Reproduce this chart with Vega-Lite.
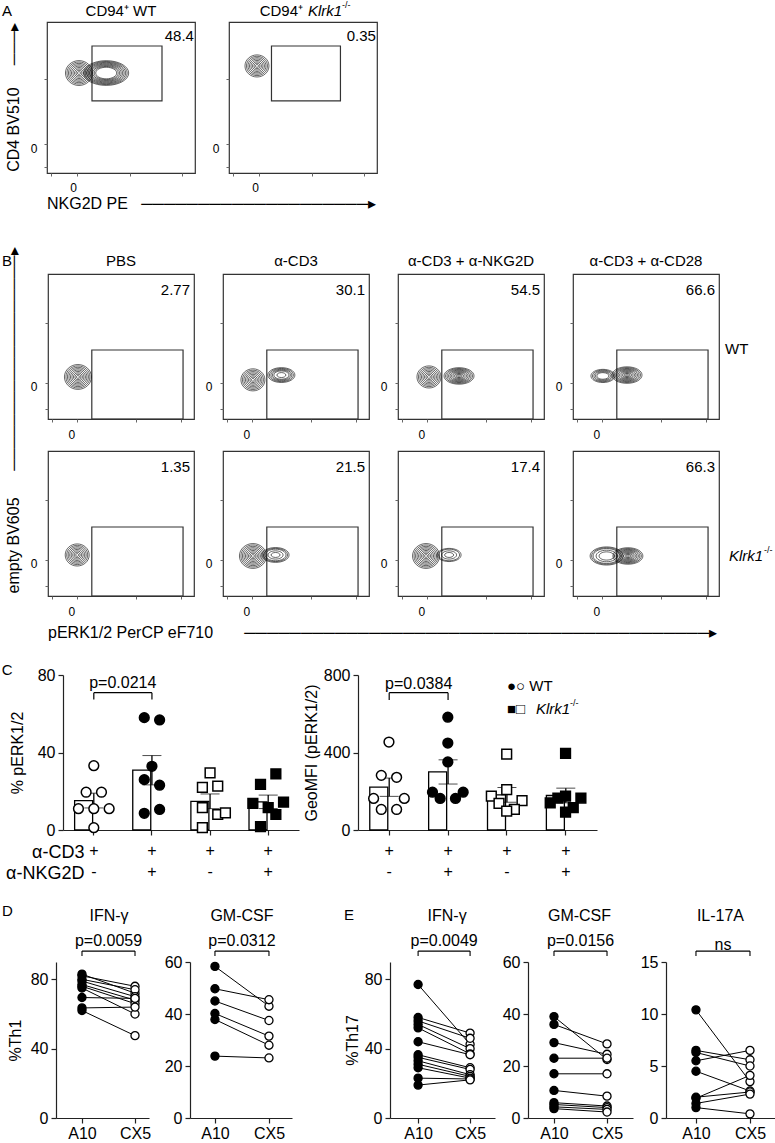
{
"$schema": "https://vega.github.io/schema/vega-lite/v6.json",
"padding": 0,
"background": "white",
"datasets": {
"flow": [
{"p":"A","gt":"WT","k":"gate","x":30.4,"x2":77.7,"y":47.7,"y2":84.1},
{"p":"A","gt":"KO","k":"gate","x":28.7,"x2":75.3,"y":47.7,"y2":84.1},
{"p":"A","gt":"WT","k":"num","lbl":"48.4"},
{"p":"A","gt":"KO","k":"num","lbl":"0.35"},
{"p":"A","gt":"WT","k":"tt"},
{"p":"A","gt":"KO","k":"tt"},
{"p":"A","gt":"WT","k":"blob","x":21.6,"y":66.2,"sh":"r","rings":[1,2,3,4,5,6,7,8,9]},
{"p":"A","gt":"WT","k":"blob","x":40,"y":66.2,"sh":"e","rings":[7,8,9,10,11,12,13,14,15]},
{"p":"A","gt":"KO","k":"blob","x":18.9,"y":70.9,"sh":"r","rings":[1,2,3,4,5,6,7,8]},
{"p":"B","gt":"WT","trt":"PBS","k":"gate","x":30,"x2":92.5,"y":0,"y2":47.6},
{"p":"B","gt":"WT","trt":"α-CD3","k":"gate","x":30,"x2":92.5,"y":0,"y2":47.6},
{"p":"B","gt":"WT","trt":"α-CD3 + α-NKG2D","k":"gate","x":30,"x2":92.5,"y":0,"y2":47.6},
{"p":"B","gt":"WT","trt":"α-CD3 + α-CD28","k":"gate","x":30,"x2":92.5,"y":0,"y2":47.6},
{"p":"B","gt":"KO","trt":"PBS","k":"gate","x":30,"x2":92.5,"y":0,"y2":47.6},
{"p":"B","gt":"KO","trt":"α-CD3","k":"gate","x":30,"x2":92.5,"y":0,"y2":47.6},
{"p":"B","gt":"KO","trt":"α-CD3 + α-NKG2D","k":"gate","x":30,"x2":92.5,"y":0,"y2":47.6},
{"p":"B","gt":"KO","trt":"α-CD3 + α-CD28","k":"gate","x":30,"x2":92.5,"y":0,"y2":47.6},
{"p":"B","gt":"WT","trt":"PBS","k":"num","lbl":"2.77"},
{"p":"B","gt":"WT","trt":"α-CD3","k":"num","lbl":"30.1"},
{"p":"B","gt":"WT","trt":"α-CD3 + α-NKG2D","k":"num","lbl":"54.5"},
{"p":"B","gt":"WT","trt":"α-CD3 + α-CD28","k":"num","lbl":"66.6"},
{"p":"B","gt":"KO","trt":"PBS","k":"num","lbl":"1.35"},
{"p":"B","gt":"KO","trt":"α-CD3","k":"num","lbl":"21.5"},
{"p":"B","gt":"KO","trt":"α-CD3 + α-NKG2D","k":"num","lbl":"17.4"},
{"p":"B","gt":"KO","trt":"α-CD3 + α-CD28","k":"num","lbl":"66.3"},
{"p":"B","gt":"WT","trt":"α-CD3 + α-CD28","k":"rl"},
{"p":"B","gt":"KO","trt":"α-CD3 + α-CD28","k":"rl"},
{"p":"B","gt":"WT","trt":"PBS","k":"blob","x":20.5,"y":29,"sh":"r","rings":[1,2,3,4,5,6,7,8,9]},
{"p":"B","gt":"WT","trt":"α-CD3","k":"blob","x":20.5,"y":27,"sh":"r","rings":[1,2,3,4,5,6,7,8]},
{"p":"B","gt":"WT","trt":"α-CD3","k":"blob","x":40,"y":30.3,"sh":"e","rings":[3,5,6,7,8,9]},
{"p":"B","gt":"WT","trt":"α-CD3 + α-NKG2D","k":"blob","x":21.2,"y":29,"sh":"r","rings":[1,2,3,4,5,6,7,8]},
{"p":"B","gt":"WT","trt":"α-CD3 + α-NKG2D","k":"blob","x":41.8,"y":29.7,"sh":"e","rings":[1,2,3,4,5,6,7,8,9,10]},
{"p":"B","gt":"WT","trt":"α-CD3 + α-CD28","k":"blob","x":20.5,"y":29.7,"sh":"e","rings":[4,5,6,7,8]},
{"p":"B","gt":"WT","trt":"α-CD3 + α-CD28","k":"blob","x":37,"y":30.3,"sh":"e","rings":[1,2,3,4,5,6,7,8,9,10]},
{"p":"B","gt":"KO","trt":"PBS","k":"blob","x":20,"y":28.3,"sh":"r","rings":[1,2,3,4,5,6,7,8]},
{"p":"B","gt":"KO","trt":"α-CD3","k":"blob","x":20.5,"y":27.6,"sh":"r","rings":[1,2,3,4,5,6,7,8,9]},
{"p":"B","gt":"KO","trt":"α-CD3","k":"blob","x":36,"y":28.3,"sh":"e","rings":[3,5,7,8,9]},
{"p":"B","gt":"KO","trt":"α-CD3 + α-NKG2D","k":"blob","x":19.2,"y":27.6,"sh":"r","rings":[1,2,3,4,5,6,7,8,9]},
{"p":"B","gt":"KO","trt":"α-CD3 + α-NKG2D","k":"blob","x":35,"y":28.3,"sh":"e","rings":[3,5,7,8]},
{"p":"B","gt":"KO","trt":"α-CD3 + α-CD28","k":"blob","x":23,"y":27.6,"sh":"e","rings":[5,7,9,10,11]},
{"p":"B","gt":"KO","trt":"α-CD3 + α-CD28","k":"blob","x":37.6,"y":27.6,"sh":"e","rings":[1,2,3,4,5,6,7,8,9,10]}
],
"pe": [
{"b":"c1","gt":"WT","ng":"-","s":0,"v":33.2},
{"b":"c1","gt":"WT","ng":"-","s":-1,"v":19.5},
{"b":"c1","gt":"WT","ng":"-","s":1,"v":19.5},
{"b":"c1","gt":"WT","ng":"-","s":-2,"v":11},
{"b":"c1","gt":"WT","ng":"-","s":0,"v":11},
{"b":"c1","gt":"WT","ng":"-","s":2,"v":11},
{"b":"c1","gt":"WT","ng":"-","s":0,"v":1.2},
{"b":"c2","gt":"WT","ng":"+","s":-1,"v":58},
{"b":"c2","gt":"WT","ng":"+","s":1,"v":56.8},
{"b":"c2","gt":"WT","ng":"+","s":0,"v":32.9},
{"b":"c2","gt":"WT","ng":"+","s":-1,"v":26},
{"b":"c2","gt":"WT","ng":"+","s":1,"v":23.1},
{"b":"c2","gt":"WT","ng":"+","s":-1,"v":8.6},
{"b":"c2","gt":"WT","ng":"+","s":1,"v":10.6},
{"b":"c3","gt":"KO","ng":"-","s":0,"v":29.5},
{"b":"c3","gt":"KO","ng":"-","s":-1,"v":22},
{"b":"c3","gt":"KO","ng":"-","s":1,"v":22.6},
{"b":"c3","gt":"KO","ng":"-","s":-1,"v":11.5},
{"b":"c3","gt":"KO","ng":"-","s":1,"v":8},
{"b":"c3","gt":"KO","ng":"-","s":2,"v":8.9},
{"b":"c3","gt":"KO","ng":"-","s":-1,"v":1.2},
{"b":"c4","gt":"KO","ng":"+","s":1,"v":29},
{"b":"c4","gt":"KO","ng":"+","s":-1,"v":23.5},
{"b":"c4","gt":"KO","ng":"+","s":-2,"v":13.7},
{"b":"c4","gt":"KO","ng":"+","s":2,"v":14.4},
{"b":"c4","gt":"KO","ng":"+","s":0,"v":11.5},
{"b":"c4","gt":"KO","ng":"+","s":1,"v":8},
{"b":"c4","gt":"KO","ng":"+","s":-1,"v":1.7}
],
"mfi": [
{"b":"c1","gt":"WT","ng":"-","s":0,"v":454},
{"b":"c1","gt":"WT","ng":"-","s":-1,"v":282},
{"b":"c1","gt":"WT","ng":"-","s":1,"v":272},
{"b":"c1","gt":"WT","ng":"-","s":-2,"v":163},
{"b":"c1","gt":"WT","ng":"-","s":2,"v":163},
{"b":"c1","gt":"WT","ng":"-","s":-1,"v":106},
{"b":"c1","gt":"WT","ng":"-","s":1,"v":106},
{"b":"c2","gt":"WT","ng":"+","s":0,"v":582},
{"b":"c2","gt":"WT","ng":"+","s":0,"v":449},
{"b":"c2","gt":"WT","ng":"+","s":0,"v":351},
{"b":"c2","gt":"WT","ng":"+","s":-2,"v":195},
{"b":"c2","gt":"WT","ng":"+","s":-1,"v":163},
{"b":"c2","gt":"WT","ng":"+","s":1,"v":163},
{"b":"c2","gt":"WT","ng":"+","s":2,"v":195},
{"b":"c3","gt":"KO","ng":"-","s":0,"v":392},
{"b":"c3","gt":"KO","ng":"-","s":0,"v":209},
{"b":"c3","gt":"KO","ng":"-","s":-2,"v":175},
{"b":"c3","gt":"KO","ng":"-","s":2,"v":152},
{"b":"c3","gt":"KO","ng":"-","s":-1,"v":137},
{"b":"c3","gt":"KO","ng":"-","s":1,"v":106},
{"b":"c3","gt":"KO","ng":"-","s":0,"v":98},
{"b":"c4","gt":"KO","ng":"+","s":0,"v":395},
{"b":"c4","gt":"KO","ng":"+","s":0,"v":175},
{"b":"c4","gt":"KO","ng":"+","s":-1,"v":165},
{"b":"c4","gt":"KO","ng":"+","s":2,"v":165},
{"b":"c4","gt":"KO","ng":"+","s":-2,"v":140},
{"b":"c4","gt":"KO","ng":"+","s":1,"v":115},
{"b":"c4","gt":"KO","ng":"+","s":0,"v":92}
],
"pairs": [
{"pl":"D1","id":1,"A10":83,"CX5":72},
{"pl":"D1","id":2,"A10":82,"CX5":76},
{"pl":"D1","id":3,"A10":80,"CX5":74},
{"pl":"D1","id":4,"A10":79,"CX5":70},
{"pl":"D1","id":5,"A10":77,"CX5":68},
{"pl":"D1","id":6,"A10":76,"CX5":66},
{"pl":"D1","id":7,"A10":75,"CX5":60},
{"pl":"D1","id":8,"A10":69.5,"CX5":69},
{"pl":"D1","id":9,"A10":63.5,"CX5":64},
{"pl":"D1","id":10,"A10":62,"CX5":47.5},
{"pl":"D2","id":1,"A10":58.3,"CX5":43},
{"pl":"D2","id":2,"A10":49.7,"CX5":45.5},
{"pl":"D2","id":3,"A10":45,"CX5":37.5},
{"pl":"D2","id":4,"A10":40.2,"CX5":31.5},
{"pl":"D2","id":5,"A10":37.9,"CX5":28},
{"pl":"D2","id":6,"A10":23.8,"CX5":23.1},
{"pl":"E1","id":1,"A10":77,"CX5":42.5},
{"pl":"E1","id":2,"A10":58,"CX5":49},
{"pl":"E1","id":3,"A10":56,"CX5":46},
{"pl":"E1","id":4,"A10":54,"CX5":40},
{"pl":"E1","id":5,"A10":52,"CX5":37},
{"pl":"E1","id":6,"A10":44,"CX5":36.5},
{"pl":"E1","id":7,"A10":36.5,"CX5":29},
{"pl":"E1","id":8,"A10":35,"CX5":28},
{"pl":"E1","id":9,"A10":33,"CX5":25},
{"pl":"E1","id":10,"A10":31,"CX5":24},
{"pl":"E1","id":11,"A10":29,"CX5":23},
{"pl":"E1","id":12,"A10":23,"CX5":22.5},
{"pl":"E1","id":13,"A10":19,"CX5":22},
{"pl":"E2","id":1,"A10":39,"CX5":22.5},
{"pl":"E2","id":2,"A10":36,"CX5":28.5},
{"pl":"E2","id":3,"A10":29,"CX5":24.5},
{"pl":"E2","id":4,"A10":23,"CX5":23},
{"pl":"E2","id":5,"A10":17,"CX5":17},
{"pl":"E2","id":6,"A10":10.6,"CX5":8.4},
{"pl":"E2","id":7,"A10":5.9,"CX5":4.6},
{"pl":"E2","id":8,"A10":5.2,"CX5":4},
{"pl":"E2","id":9,"A10":4.3,"CX5":3.3},
{"pl":"E2","id":10,"A10":3.6,"CX5":2.3},
{"pl":"E3","id":1,"A10":10.4,"CX5":3.5},
{"pl":"E3","id":2,"A10":6.5,"CX5":5.6},
{"pl":"E3","id":3,"A10":6.3,"CX5":5.0},
{"pl":"E3","id":4,"A10":5.5,"CX5":6.5},
{"pl":"E3","id":5,"A10":4.5,"CX5":2.6},
{"pl":"E3","id":6,"A10":2.0,"CX5":2.5},
{"pl":"E3","id":7,"A10":1.9,"CX5":4.1},
{"pl":"E3","id":8,"A10":1.4,"CX5":2.3},
{"pl":"E3","id":9,"A10":1.0,"CX5":0.4}
]
},
"resolve": {"scale": {"shape": "independent", "fill": "independent", "size": "independent"}},
"spacing": 20,
"vconcat": [
{
"resolve": {"scale": {"shape": "independent", "fill": "independent", "size": "independent"}},
"spacing": 33,
"vconcat": [
{
"spacing": 0,
"hconcat": [
{"width": 1, "height": 1, "data": {"values": []}, "mark": {"type": "point", "opacity": 0}},
{
"data": {"name": "flow"},
"transform": [{"filter": "datum.p == 'A'"}],
"facet": {
"column": {"field": "gt", "type": "nominal", "sort": ["WT", "KO"], "header": {"labels": false, "title": null}}
},
"spacing": {"column": 34},
"bounds": "flush",
"resolve": {"axis": {"x": "independent", "y": "independent"}},
"spec": {
"width": 148, "height": 151,
"view": {"stroke": "#333", "strokeWidth": 1.2},
"layer": [
{"transform": [{"filter": "datum.k == 'gate'"}],
"mark": {"type": "rect", "filled": false, "color": "#333", "strokeWidth": 1.2},
"encoding": {
"x": {"field": "x", "type": "quantitative", "scale": {"domain": [0, 100], "nice": false, "zero": false}, "axis": {"title": null, "domain": false, "labels": false, "tickSize": 3, "tickColor": "#666", "tickWidth": 1, "values": [3, 8, 12, 14, 16, 17, 18, 19, 20, 22, 24, 28, 36, 41, 45, 51, 56, 60, 64, 67, 75, 80, 85, 88, 91]}},
"x2": {"field": "x2"},
"y": {"field": "y", "type": "quantitative", "scale": {"domain": [0, 100], "nice": false, "zero": false}, "axis": {"title": null, "domain": false, "labels": false, "tickSize": 3, "tickColor": "#666", "tickWidth": 1, "values": [4, 10, 13, 14.5, 15.5, 16, 16.5, 17.5, 19, 22, 30, 36, 40, 43.7, 52, 58, 62, 65, 67.5, 75, 82, 86, 89, 91]}},
"y2": {"field": "y2"}}},
{"transform": [{"filter": "datum.k == 'blob'"}, {"flatten": ["rings"], "as": ["ring"]}],
"mark": {"type": "point", "filled": false, "color": "#000", "strokeWidth": 0.6, "opacity": 1},
"encoding": {
"x": {"field": "x", "type": "quantitative"},
"y": {"field": "y", "type": "quantitative"},
"size": {"field": "ring", "type": "quantitative", "scale": {"type": "pow", "exponent": 2, "domain": [0, 15], "range": [0, 2025]}, "legend": null},
"shape": {"field": "sh", "type": "nominal", "scale": {"domain": ["r", "e"], "range": ["M-1,0A1,0.92,0,1,0,1,0A1,0.92,0,1,0,-1,0Z", "M-1,0A1,0.55,0,1,0,1,0A1,0.55,0,1,0,-1,0Z"]}, "legend": null}}},
{"transform": [{"filter": "datum.k == 'num'"}],
"mark": {"type": "text", "align": "right", "baseline": "middle", "fontSize": 15},
"encoding": {"x": {"datum": 99.3}, "y": {"datum": 90.7}, "text": {"field": "lbl"}}},
{"transform": [{"filter": "datum.k == 'gate'"}],
"mark": {"type": "text", "align": "right", "baseline": "middle", "fontSize": 12},
"encoding": {"x": {"datum": -6.4}, "y": {"datum": 16}, "text": {"value": "0"}}},
{"transform": [{"filter": "datum.k == 'gate'"}],
"mark": {"type": "text", "align": "center", "baseline": "middle", "fontSize": 12},
"encoding": {"x": {"datum": 18}, "y": {"datum": -10}, "text": {"value": "0"}}},
{"transform": [{"filter": "datum.k == 'tt' && datum.gt == 'WT'"}],
"mark": {"type": "text", "align": "center", "baseline": "middle", "fontSize": 15},
"encoding": {"x": {"datum": 50}, "y": {"datum": 107.3}, "text": {"value": "CD94⁺ WT"}}},
{"transform": [{"filter": "datum.k == 'tt' && datum.gt == 'WT'"}],
"mark": {"type": "text", "align": "left", "baseline": "middle", "fontSize": 15},
"encoding": {"x": {"datum": -30.4}, "y": {"datum": 107.3}, "text": {"value": "A"}}},
{"transform": [{"filter": "datum.k == 'tt' && datum.gt == 'WT'"}],
"mark": {"type": "text", "align": "center", "baseline": "middle", "fontSize": 16, "angle": 270},
"encoding": {"x": {"datum": -22.3}, "y": {"datum": 50}, "text": {"value": "CD4 BV510\u00a0\u00a0\u00a0\u00a0\u00a0───▸"}}},
{"transform": [{"filter": "datum.k == 'tt' && datum.gt == 'WT'"}],
"mark": {"type": "text", "align": "left", "baseline": "middle", "fontSize": 16},
"encoding": {"x": {"datum": 0}, "y": {"datum": -20.5}, "text": {"value": "NKG2D PE\u00a0\u00a0\u00a0────────────────────▸"}}},
{"transform": [{"filter": "datum.k == 'tt' && datum.gt == 'KO'"}],
"mark": {"type": "text", "align": "right", "baseline": "middle", "fontSize": 15},
"encoding": {"x": {"datum": 50}, "y": {"datum": 107.3}, "text": {"value": "CD94⁺"}}},
{"transform": [{"filter": "datum.k == 'tt' && datum.gt == 'KO'"}],
"mark": {"type": "text", "align": "left", "baseline": "middle", "fontSize": 15, "fontStyle": "italic", "dx": 5},
"encoding": {"x": {"datum": 50}, "y": {"datum": 107.3}, "text": {"value": "Klrk1"}}},
{"transform": [{"filter": "datum.k == 'tt' && datum.gt == 'KO'"}],
"mark": {"type": "text", "align": "left", "baseline": "middle", "fontSize": 9, "dx": 39, "dy": -6},
"encoding": {"x": {"datum": 50}, "y": {"datum": 107.3}, "text": {"value": "-/-"}}}
]
}
}
]
},
{
"spacing": 0,
"hconcat": [
{"width": 1, "height": 1, "data": {"values": []}, "mark": {"type": "point", "opacity": 0}},
{
"data": {"name": "flow"},
"transform": [{"filter": "datum.p == 'B'"}],
"facet": {
"column": {"field": "trt", "type": "nominal", "sort": ["PBS", "α-CD3", "α-CD3 + α-NKG2D", "α-CD3 + α-CD28"], "header": {"labelFontSize": 15, "labelPadding": 5, "title": null}},
"row": {"field": "gt", "type": "nominal", "sort": ["WT", "KO"], "header": {"labels": false, "title": null}}
},
"spacing": {"row": 32, "column": 29},
"bounds": "flush",
"resolve": {"axis": {"x": "independent", "y": "independent"}},
"spec": {
"width": 146, "height": 145,
"view": {"stroke": "#333", "strokeWidth": 1.2},
"layer": [
{"transform": [{"filter": "datum.k == 'gate'"}],
"mark": {"type": "rect", "filled": false, "color": "#333", "strokeWidth": 1.2},
"encoding": {
"x": {"field": "x", "type": "quantitative", "scale": {"domain": [0, 100], "nice": false, "zero": false}, "axis": {"title": null, "domain": false, "labels": false, "tickSize": 3, "tickColor": "#666", "tickWidth": 1, "values": [3, 9, 12, 14.5, 15.5, 16.4, 17.3, 18.3, 20, 24, 28, 35, 40, 45.5, 51, 56, 60, 63, 66, 68, 75, 80, 85, 88, 91]}},
"x2": {"field": "x2"},
"y": {"field": "y", "type": "quantitative", "scale": {"domain": [0, 100], "nice": false, "zero": false}, "axis": {"title": null, "domain": false, "labels": false, "tickSize": 3, "tickColor": "#666", "tickWidth": 1, "values": [6.9, 14, 18, 20.7, 21.4, 22, 22.6, 23.3, 24.8, 28, 38.6, 46, 52, 57, 61, 64, 66.2, 74, 80, 84, 88, 90.3]}},
"y2": {"field": "y2"}}},
{"transform": [{"filter": "datum.k == 'blob'"}, {"flatten": ["rings"], "as": ["ring"]}],
"mark": {"type": "point", "filled": false, "color": "#000", "strokeWidth": 0.6, "opacity": 1},
"encoding": {
"x": {"field": "x", "type": "quantitative"},
"y": {"field": "y", "type": "quantitative"},
"size": {"field": "ring", "type": "quantitative", "scale": {"type": "pow", "exponent": 2, "domain": [0, 15], "range": [0, 2025]}, "legend": null},
"shape": {"field": "sh", "type": "nominal", "scale": {"domain": ["r", "e"], "range": ["M-1,0A1,0.92,0,1,0,1,0A1,0.92,0,1,0,-1,0Z", "M-1,0A1,0.55,0,1,0,1,0A1,0.55,0,1,0,-1,0Z"]}, "legend": null}}},
{"transform": [{"filter": "datum.k == 'num'"}],
"mark": {"type": "text", "align": "right", "baseline": "middle", "fontSize": 15},
"encoding": {"x": {"datum": 97.3}, "y": {"datum": 89}, "text": {"field": "lbl"}}},
{"transform": [{"filter": "datum.k == 'gate'"}],
"mark": {"type": "text", "align": "right", "baseline": "middle", "fontSize": 12},
"encoding": {"x": {"datum": -7.2}, "y": {"datum": 22}, "text": {"value": "0"}}},
{"transform": [{"filter": "datum.k == 'gate'"}],
"mark": {"type": "text", "align": "center", "baseline": "middle", "fontSize": 12},
"encoding": {"x": {"datum": 16.4}, "y": {"datum": -11}, "text": {"value": "0"}}},
{"transform": [{"filter": "datum.k == 'num' && datum.gt == 'WT' && datum.trt == 'PBS'"}],
"mark": {"type": "text", "align": "left", "baseline": "middle", "fontSize": 15},
"encoding": {"x": {"datum": -31.5}, "y": {"datum": 109}, "text": {"value": "B"}}},
{"transform": [{"filter": "datum.k == 'num' && datum.gt == 'WT' && datum.trt == 'PBS'"}],
"mark": {"type": "text", "align": "center", "baseline": "middle", "fontSize": 16, "angle": 270},
"encoding": {"x": {"datum": -23.3}, "y": {"datum": -1}, "text": {"value": "empty BV605\u00a0\u00a0\u00a0\u00a0\u00a0\u00a0───────────────────▸"}}},
{"transform": [{"filter": "datum.k == 'num' && datum.gt == 'KO' && datum.trt == 'PBS'"}],
"mark": {"type": "text", "align": "left", "baseline": "middle", "fontSize": 16},
"encoding": {"x": {"datum": 0}, "y": {"datum": -25.5}, "text": {"value": "pERK1/2 PerCP eF710\u00a0\u00a0\u00a0\u00a0\u00a0\u00a0\u00a0─────────────────────────────────────────▸"}}},
{"transform": [{"filter": "datum.k == 'rl' && datum.gt == 'WT'"}],
"mark": {"type": "text", "align": "left", "baseline": "middle", "fontSize": 15},
"encoding": {"x": {"datum": 104.1}, "y": {"datum": 48.3}, "text": {"value": "WT"}}},
{"transform": [{"filter": "datum.k == 'rl' && datum.gt == 'KO'"}],
"mark": {"type": "text", "align": "left", "baseline": "middle", "fontSize": 15, "fontStyle": "italic"},
"encoding": {"x": {"datum": 106.8}, "y": {"datum": 27.6}, "text": {"value": "Klrk1"}}},
{"transform": [{"filter": "datum.k == 'rl' && datum.gt == 'KO'"}],
"mark": {"type": "text", "align": "left", "baseline": "middle", "fontSize": 9, "dx": 35, "dy": -6},
"encoding": {"x": {"datum": 106.8}, "y": {"datum": 27.6}, "text": {"value": "-/-"}}}
]
}
}
]
}
]
},
{
"resolve": {"scale": {"shape": "independent", "fill": "independent", "size": "independent"}},
"spacing": 22,
"vconcat": [
{
"spacing": 0,
"hconcat": [
{"width": 1, "height": 1, "data": {"values": []}, "mark": {"type": "point", "opacity": 0}},
{
"spacing": 4,
"hconcat": [
{
"width": 236, "height": 155,
"data": {"name": "pe"},
"layer": [
{"mark": {"type": "bar", "fill": "#fff", "stroke": "#000", "strokeWidth": 1.3},
"encoding": {
"x": {"field": "b", "type": "nominal", "scale": {"paddingInner": 0.34, "paddingOuter": 0.2}, "axis": {"title": ["α-CD3", "α-NKG2D"], "titleFontSize": 18, "titleLineHeight": 21, "titleAlign": "right", "titleBaseline": "alphabetic", "titleAngle": 0, "titleX": 21, "titleY": 27, "labelExpr": "datum.value == 'c1' || datum.value == 'c3' ? ['+', '-'] : ['+', '+']", "labelLineHeight": 21, "labelPadding": 7, "labelAngle": 0}},
"y": {"aggregate": "mean", "field": "v", "type": "quantitative", "scale": {"domain": [0, 80], "nice": false}, "axis": {"title": "% pERK1/2", "values": [0, 20, 40, 60, 80], "titlePadding": 12, "labelPadding": 3}}}},
{"mark": {"type": "errorbar", "extent": "stderr", "color": "#000", "ticks": {"size": 19}, "rule": {"strokeWidth": 1.3}},
"encoding": {"x": {"field": "b", "type": "nominal"}, "y": {"field": "v", "type": "quantitative", "title": "% pERK1/2"}}},
{"mark": {"type": "point", "filled": true, "size": 95, "stroke": "#000", "strokeWidth": 1.5, "opacity": 1},
"encoding": {
"x": {"field": "b", "type": "nominal"},
"xOffset": {"field": "s", "type": "ordinal", "scale": {"domain": [-2, -1, 0, 1, 2]}},
"y": {"field": "v", "type": "quantitative", "title": "% pERK1/2"},
"shape": {"field": "gt", "type": "nominal", "scale": {"domain": ["WT", "KO"], "range": ["circle", "square"]}, "legend": null},
"fill": {"field": "ng", "type": "nominal", "scale": {"domain": ["-", "+"], "range": ["#ffffff", "#000000"]}, "legend": null}}},
{"data": {"values": [{}]}, "mark": {"type": "rule", "color": "#000", "strokeWidth": 1.2},
"encoding": {"x": {"datum": "c1"}, "x2": {"datum": "c2"}, "y": {"datum": 70.9}}},
{"data": {"values": [{}]}, "mark": {"type": "rule", "color": "#000", "strokeWidth": 1.2},
"encoding": {"x": {"datum": "c1"}, "y": {"datum": 70.9}, "y2": {"datum": 67.3}}},
{"data": {"values": [{}]}, "mark": {"type": "rule", "color": "#000", "strokeWidth": 1.2},
"encoding": {"x": {"datum": "c2"}, "y": {"datum": 70.9}, "y2": {"datum": 67.3}}},
{"data": {"values": [{}]}, "mark": {"type": "text", "fontSize": 16, "dx": 29, "baseline": "middle", "align": "center"},
"encoding": {"x": {"datum": "c1"}, "y": {"datum": 75.7}, "text": {"value": "p=0.0214"}}},
{"data": {"values": [{}]}, "mark": {"type": "text", "fontSize": 15, "dx": -92, "baseline": "middle", "align": "left"},
"encoding": {"x": {"datum": "c1"}, "y": {"datum": 82.6}, "text": {"value": "C"}}}
]
},
{
"width": 239, "height": 155,
"data": {"name": "mfi"},
"layer": [
{"mark": {"type": "bar", "fill": "#fff", "stroke": "#000", "strokeWidth": 1.3},
"encoding": {
"x": {"field": "b", "type": "nominal", "scale": {"paddingInner": 0.34, "paddingOuter": 0.2}, "axis": {"title": null, "labelExpr": "datum.value == 'c1' || datum.value == 'c3' ? ['+', '-'] : ['+', '+']", "labelLineHeight": 21, "labelPadding": 7, "labelAngle": 0}},
"y": {"aggregate": "mean", "field": "v", "type": "quantitative", "scale": {"domain": [0, 800], "nice": false}, "axis": {"title": "GeoMFI (pERK1/2)", "values": [0, 200, 400, 600, 800], "titlePadding": 4, "labelPadding": 3}}}},
{"mark": {"type": "errorbar", "extent": "stderr", "color": "#000", "ticks": {"size": 19}, "rule": {"strokeWidth": 1.3}},
"encoding": {"x": {"field": "b", "type": "nominal"}, "y": {"field": "v", "type": "quantitative", "title": "GeoMFI (pERK1/2)"}}},
{"mark": {"type": "point", "filled": true, "size": 95, "stroke": "#000", "strokeWidth": 1.5, "opacity": 1},
"encoding": {
"x": {"field": "b", "type": "nominal"},
"xOffset": {"field": "s", "type": "ordinal", "scale": {"domain": [-2, -1, 0, 1, 2]}},
"y": {"field": "v", "type": "quantitative", "title": "GeoMFI (pERK1/2)"},
"shape": {"field": "gt", "type": "nominal", "scale": {"domain": ["WT", "KO"], "range": ["circle", "square"]}, "legend": null},
"fill": {"field": "ng", "type": "nominal", "scale": {"domain": ["-", "+"], "range": ["#ffffff", "#000000"]}, "legend": null}}},
{"data": {"values": [{}]}, "mark": {"type": "rule", "color": "#000", "strokeWidth": 1.2},
"encoding": {"x": {"datum": "c1"}, "x2": {"datum": "c2"}, "y": {"datum": 709}}},
{"data": {"values": [{}]}, "mark": {"type": "rule", "color": "#000", "strokeWidth": 1.2},
"encoding": {"x": {"datum": "c1"}, "y": {"datum": 709}, "y2": {"datum": 671}}},
{"data": {"values": [{}]}, "mark": {"type": "rule", "color": "#000", "strokeWidth": 1.2},
"encoding": {"x": {"datum": "c2"}, "y": {"datum": 709}, "y2": {"datum": 671}}},
{"data": {"values": [{}]}, "mark": {"type": "text", "fontSize": 16, "dx": 29.5, "baseline": "middle", "align": "center"},
"encoding": {"x": {"datum": "c1"}, "y": {"datum": 752}, "text": {"value": "p=0.0384"}}},
{"data": {"values": [{}]}, "mark": {"type": "text", "fontSize": 15, "baseline": "middle", "align": "left"},
"encoding": {"x": {"datum": "c3"}, "y": {"datum": 742}, "text": {"value": "●○ WT"}}},
{"data": {"values": [{}]}, "mark": {"type": "text", "fontSize": 15, "baseline": "middle", "align": "left"},
"encoding": {"x": {"datum": "c3"}, "y": {"datum": 624}, "text": {"value": "■□"}}},
{"data": {"values": [{}]}, "mark": {"type": "text", "fontSize": 15, "baseline": "middle", "align": "left", "fontStyle": "italic", "dx": 29},
"encoding": {"x": {"datum": "c3"}, "y": {"datum": 624}, "text": {"value": "Klrk1"}}},
{"data": {"values": [{}]}, "mark": {"type": "text", "fontSize": 9, "baseline": "middle", "align": "left", "dx": 63, "dy": -6},
"encoding": {"x": {"datum": "c3"}, "y": {"datum": 624}, "text": {"value": "-/-"}}}
]
}
]
}
]
},
{
"spacing": 0,
"hconcat": [
{"width": 1, "height": 1, "data": {"values": []}, "mark": {"type": "point", "opacity": 0}},
{
"spacing": 52,
"hconcat": [
{
"spacing": 13,
"hconcat": [
{
"width": 93, "height": 156,
"layer": [
{"data": {"name": "pairs"}, "transform": [{"filter": "datum.pl == 'D1'"}, {"fold": ["A10", "CX5"], "as": ["grp", "v"]}],
"mark": {"type": "line", "color": "#000", "strokeWidth": 1},
"encoding": {
"x": {"field": "grp", "type": "nominal", "scale": {"type": "point", "padding": 0.377, "align": 0.65}, "axis": {"title": null, "labelAngle": 0, "labelPadding": 2}},
"y": {"field": "v", "type": "quantitative", "scale": {"domain": [0, 90], "nice": false}, "axis": {"title": "%Th1", "values": [0, 10, 20, 30, 40, 50, 60, 70, 80, 90], "titlePadding": 7, "labelPadding": 3}},
"detail": {"field": "id", "type": "nominal"}}},
{"data": {"name": "pairs"}, "transform": [{"filter": "datum.pl == 'D1'"}, {"fold": ["A10", "CX5"], "as": ["grp", "v"]}],
"mark": {"type": "point", "filled": true, "size": 65, "stroke": "#000", "strokeWidth": 1.3, "opacity": 1},
"encoding": {
"x": {"field": "grp", "type": "nominal", "title": null},
"y": {"field": "v", "type": "quantitative", "title": "%Th1"},
"fill": {"field": "grp", "type": "nominal", "scale": {"domain": ["A10", "CX5"], "range": ["#000000", "#ffffff"]}, "legend": null}}},
{"data": {"values": [{}]}, "mark": {"type": "rule", "color": "#000", "strokeWidth": 1.1},
"encoding": {"x": {"datum": "A10"}, "x2": {"datum": "CX5"}, "y": {"datum": 96.3}}},
{"data": {"values": [{}]}, "mark": {"type": "rule", "color": "#000", "strokeWidth": 1.1},
"encoding": {"x": {"datum": "A10"}, "y": {"datum": 96.3}, "y2": {"datum": 93.5}}},
{"data": {"values": [{}]}, "mark": {"type": "rule", "color": "#000", "strokeWidth": 1.1},
"encoding": {"x": {"datum": "CX5"}, "y": {"datum": 96.3}, "y2": {"datum": 93.5}}},
{"data": {"values": [{}]}, "mark": {"type": "text", "fontSize": 16, "dx": 26.5, "baseline": "middle", "align": "center"},
"encoding": {"x": {"datum": "A10"}, "y": {"datum": 102}, "text": {"value": "p=0.0059"}}},
{"data": {"values": [{}]}, "mark": {"type": "text", "fontSize": 16, "dx": 27, "baseline": "middle", "align": "center"},
"encoding": {"x": {"datum": "A10"}, "y": {"datum": 116.6}, "text": {"value": "IFN-γ"}}},
{"data": {"values": [{}]}, "mark": {"type": "text", "fontSize": 15, "dx": -80, "baseline": "middle", "align": "left"},
"encoding": {"x": {"datum": "A10"}, "y": {"datum": 119.4}, "text": {"value": "D"}}}
]
},
{
"width": 102, "height": 156,
"layer": [
{"data": {"name": "pairs"}, "transform": [{"filter": "datum.pl == 'D2'"}, {"fold": ["A10", "CX5"], "as": ["grp", "v"]}],
"mark": {"type": "line", "color": "#000", "strokeWidth": 1},
"encoding": {
"x": {"field": "grp", "type": "nominal", "scale": {"type": "point", "padding": 0.444, "align": 0.52}, "axis": {"title": null, "labelAngle": 0, "labelPadding": 2}},
"y": {"field": "v", "type": "quantitative", "scale": {"domain": [0, 60], "nice": false}, "axis": {"title": null, "values": [0, 20, 40, 60], "labelPadding": 3}},
"detail": {"field": "id", "type": "nominal"}}},
{"data": {"name": "pairs"}, "transform": [{"filter": "datum.pl == 'D2'"}, {"fold": ["A10", "CX5"], "as": ["grp", "v"]}],
"mark": {"type": "point", "filled": true, "size": 65, "stroke": "#000", "strokeWidth": 1.3, "opacity": 1},
"encoding": {
"x": {"field": "grp", "type": "nominal", "title": null},
"y": {"field": "v", "type": "quantitative", "title": null},
"fill": {"field": "grp", "type": "nominal", "scale": {"domain": ["A10", "CX5"], "range": ["#000000", "#ffffff"]}, "legend": null}}},
{"data": {"values": [{}]}, "mark": {"type": "rule", "color": "#000", "strokeWidth": 1.1},
"encoding": {"x": {"datum": "A10"}, "x2": {"datum": "CX5"}, "y": {"datum": 64.2}}},
{"data": {"values": [{}]}, "mark": {"type": "rule", "color": "#000", "strokeWidth": 1.1},
"encoding": {"x": {"datum": "A10"}, "y": {"datum": 64.2}, "y2": {"datum": 62.3}}},
{"data": {"values": [{}]}, "mark": {"type": "rule", "color": "#000", "strokeWidth": 1.1},
"encoding": {"x": {"datum": "CX5"}, "y": {"datum": 64.2}, "y2": {"datum": 62.3}}},
{"data": {"values": [{}]}, "mark": {"type": "text", "fontSize": 16, "dx": 27, "baseline": "middle", "align": "center"},
"encoding": {"x": {"datum": "A10"}, "y": {"datum": 68}, "text": {"value": "p=0.0312"}}},
{"data": {"values": [{}]}, "mark": {"type": "text", "fontSize": 16, "dx": 27, "baseline": "middle", "align": "center"},
"encoding": {"x": {"datum": "A10"}, "y": {"datum": 77.7}, "text": {"value": "GM-CSF"}}}
]
}
]
},
{
"spacing": 7,
"hconcat": [
{
"width": 105, "height": 156,
"layer": [
{"data": {"name": "pairs"}, "transform": [{"filter": "datum.pl == 'E1'"}, {"fold": ["A10", "CX5"], "as": ["grp", "v"]}],
"mark": {"type": "line", "color": "#000", "strokeWidth": 1},
"encoding": {
"x": {"field": "grp", "type": "nominal", "scale": {"type": "point", "padding": 0.51, "align": 0.53}, "axis": {"title": null, "labelAngle": 0, "labelPadding": 2}},
"y": {"field": "v", "type": "quantitative", "scale": {"domain": [0, 90], "nice": false}, "axis": {"title": "%Th17", "values": [0, 10, 20, 30, 40, 50, 60, 70, 80, 90], "titlePadding": 4, "labelPadding": 3}},
"detail": {"field": "id", "type": "nominal"}}},
{"data": {"name": "pairs"}, "transform": [{"filter": "datum.pl == 'E1'"}, {"fold": ["A10", "CX5"], "as": ["grp", "v"]}],
"mark": {"type": "point", "filled": true, "size": 65, "stroke": "#000", "strokeWidth": 1.3, "opacity": 1},
"encoding": {
"x": {"field": "grp", "type": "nominal", "title": null},
"y": {"field": "v", "type": "quantitative", "title": "%Th17"},
"fill": {"field": "grp", "type": "nominal", "scale": {"domain": ["A10", "CX5"], "range": ["#000000", "#ffffff"]}, "legend": null}}},
{"data": {"values": [{}]}, "mark": {"type": "rule", "color": "#000", "strokeWidth": 1.1},
"encoding": {"x": {"datum": "A10"}, "x2": {"datum": "CX5"}, "y": {"datum": 96.3}}},
{"data": {"values": [{}]}, "mark": {"type": "rule", "color": "#000", "strokeWidth": 1.1},
"encoding": {"x": {"datum": "A10"}, "y": {"datum": 96.3}, "y2": {"datum": 93.5}}},
{"data": {"values": [{}]}, "mark": {"type": "rule", "color": "#000", "strokeWidth": 1.1},
"encoding": {"x": {"datum": "CX5"}, "y": {"datum": 96.3}, "y2": {"datum": 93.5}}},
{"data": {"values": [{}]}, "mark": {"type": "text", "fontSize": 16, "dx": 26, "baseline": "middle", "align": "center"},
"encoding": {"x": {"datum": "A10"}, "y": {"datum": 102}, "text": {"value": "p=0.0049"}}},
{"data": {"values": [{}]}, "mark": {"type": "text", "fontSize": 16, "dx": 29, "baseline": "middle", "align": "center"},
"encoding": {"x": {"datum": "A10"}, "y": {"datum": 116.6}, "text": {"value": "IFN-γ"}}},
{"data": {"values": [{}]}, "mark": {"type": "text", "fontSize": 15, "dx": -74, "baseline": "middle", "align": "left"},
"encoding": {"x": {"datum": "A10"}, "y": {"datum": 117.1}, "text": {"value": "E"}}}
]
},
{
"width": 105, "height": 156,
"layer": [
{"data": {"name": "pairs"}, "transform": [{"filter": "datum.pl == 'E2'"}, {"fold": ["A10", "CX5"], "as": ["grp", "v"]}],
"mark": {"type": "line", "color": "#000", "strokeWidth": 1},
"encoding": {
"x": {"field": "grp", "type": "nominal", "scale": {"type": "point", "padding": 0.49, "align": 0.5}, "axis": {"title": null, "labelAngle": 0, "labelPadding": 2}},
"y": {"field": "v", "type": "quantitative", "scale": {"domain": [0, 60], "nice": false}, "axis": {"title": null, "values": [0, 20, 40, 60], "labelPadding": 3}},
"detail": {"field": "id", "type": "nominal"}}},
{"data": {"name": "pairs"}, "transform": [{"filter": "datum.pl == 'E2'"}, {"fold": ["A10", "CX5"], "as": ["grp", "v"]}],
"mark": {"type": "point", "filled": true, "size": 65, "stroke": "#000", "strokeWidth": 1.3, "opacity": 1},
"encoding": {
"x": {"field": "grp", "type": "nominal", "title": null},
"y": {"field": "v", "type": "quantitative", "title": null},
"fill": {"field": "grp", "type": "nominal", "scale": {"domain": ["A10", "CX5"], "range": ["#000000", "#ffffff"]}, "legend": null}}},
{"data": {"values": [{}]}, "mark": {"type": "rule", "color": "#000", "strokeWidth": 1.1},
"encoding": {"x": {"datum": "A10"}, "x2": {"datum": "CX5"}, "y": {"datum": 64.2}}},
{"data": {"values": [{}]}, "mark": {"type": "rule", "color": "#000", "strokeWidth": 1.1},
"encoding": {"x": {"datum": "A10"}, "y": {"datum": 64.2}, "y2": {"datum": 62.3}}},
{"data": {"values": [{}]}, "mark": {"type": "rule", "color": "#000", "strokeWidth": 1.1},
"encoding": {"x": {"datum": "CX5"}, "y": {"datum": 64.2}, "y2": {"datum": 62.3}}},
{"data": {"values": [{}]}, "mark": {"type": "text", "fontSize": 16, "dx": 26.5, "baseline": "middle", "align": "center"},
"encoding": {"x": {"datum": "A10"}, "y": {"datum": 68}, "text": {"value": "p=0.0156"}}},
{"data": {"values": [{}]}, "mark": {"type": "text", "fontSize": 16, "dx": 25.5, "baseline": "middle", "align": "center"},
"encoding": {"x": {"datum": "A10"}, "y": {"datum": 77.7}, "text": {"value": "GM-CSF"}}}
]
},
{
"width": 109, "height": 156,
"layer": [
{"data": {"name": "pairs"}, "transform": [{"filter": "datum.pl == 'E3'"}, {"fold": ["A10", "CX5"], "as": ["grp", "v"]}],
"mark": {"type": "line", "color": "#000", "strokeWidth": 1},
"encoding": {
"x": {"field": "grp", "type": "nominal", "scale": {"type": "point", "padding": 0.509, "align": 0.545}, "axis": {"title": null, "labelAngle": 0, "labelPadding": 2}},
"y": {"field": "v", "type": "quantitative", "scale": {"domain": [0, 15], "nice": false}, "axis": {"title": null, "values": [0, 5, 10, 15], "labelPadding": 3}},
"detail": {"field": "id", "type": "nominal"}}},
{"data": {"name": "pairs"}, "transform": [{"filter": "datum.pl == 'E3'"}, {"fold": ["A10", "CX5"], "as": ["grp", "v"]}],
"mark": {"type": "point", "filled": true, "size": 65, "stroke": "#000", "strokeWidth": 1.3, "opacity": 1},
"encoding": {
"x": {"field": "grp", "type": "nominal", "title": null},
"y": {"field": "v", "type": "quantitative", "title": null},
"fill": {"field": "grp", "type": "nominal", "scale": {"domain": ["A10", "CX5"], "range": ["#000000", "#ffffff"]}, "legend": null}}},
{"data": {"values": [{}]}, "mark": {"type": "rule", "color": "#000", "strokeWidth": 1.1},
"encoding": {"x": {"datum": "A10"}, "x2": {"datum": "CX5"}, "y": {"datum": 16.05}}},
{"data": {"values": [{}]}, "mark": {"type": "rule", "color": "#000", "strokeWidth": 1.1},
"encoding": {"x": {"datum": "A10"}, "y": {"datum": 16.05}, "y2": {"datum": 15.58}}},
{"data": {"values": [{}]}, "mark": {"type": "rule", "color": "#000", "strokeWidth": 1.1},
"encoding": {"x": {"datum": "CX5"}, "y": {"datum": 16.05}, "y2": {"datum": 15.58}}},
{"data": {"values": [{}]}, "mark": {"type": "text", "fontSize": 16, "dx": 27, "baseline": "middle", "align": "center"},
"encoding": {"x": {"datum": "A10"}, "y": {"datum": 16.6}, "text": {"value": "ns"}}},
{"data": {"values": [{}]}, "mark": {"type": "text", "fontSize": 16, "dx": 24.5, "baseline": "middle", "align": "center"},
"encoding": {"x": {"datum": "A10"}, "y": {"datum": 19.4}, "text": {"value": "IL-17A"}}}
]
}
]
}
]
}
]
}
]
}
],
"config": {
"font": "Liberation Sans",
"view": {"stroke": null},
"axis": {"grid": false, "domainColor": "#222", "tickColor": "#222", "domainWidth": 1.2, "tickWidth": 1.2, "labelColor": "#000", "titleColor": "#000", "titleFontWeight": "normal", "labelFontSize": 16, "titleFontSize": 16, "tickSize": 5, "labelFont": "Liberation Sans", "titleFont": "Liberation Sans"},
"header": {"titleFontWeight": "normal", "labelColor": "#000", "titleColor": "#000", "labelFont": "Liberation Sans", "titleFont": "Liberation Sans"},
"title": {"fontWeight": "normal", "color": "#000", "font": "Liberation Sans"},
"text": {"color": "#000", "font": "Liberation Sans"}
}
}
